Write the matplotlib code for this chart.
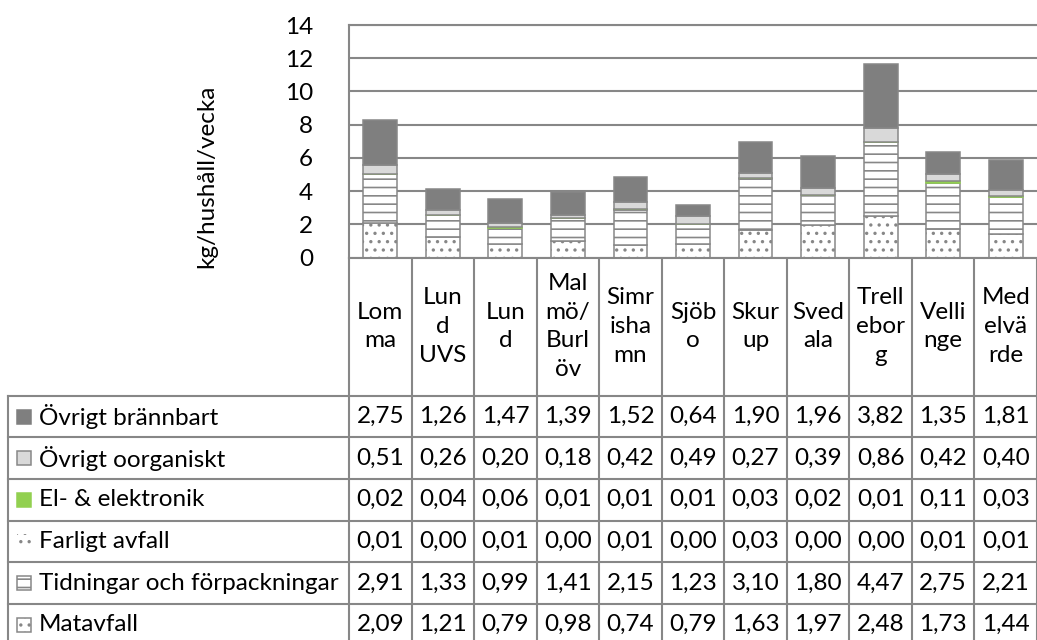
import matplotlib
matplotlib.use("Agg")
import matplotlib.pyplot as plt
from matplotlib.patches import Rectangle
import numpy as np

plt.rcParams['font.family'] = ['Lato', 'DejaVu Sans']
plt.rcParams['hatch.linewidth'] = 1.2

# kommuner, header text wrapped the way the table cell shows it
kommuner = ["Lom\nma", "Lun\nd\nUVS", "Lun\nd", "Mal\nmö/\nBurl\növ", "Simr\nisha\nmn",
            "Sjöb\no", "Skur\nup", "Sved\nala", "Trell\nebor\ng", "Velli\nnge", "Med\nelvä\nrde"]

# kg/hushåll/vecka per fraktion
matavfall = [2.09, 1.21, 0.79, 0.98, 0.74, 0.79, 1.63, 1.97, 2.48, 1.73, 1.44]
tidningar = [2.91, 1.33, 0.99, 1.41, 2.15, 1.23, 3.10, 1.80, 4.47, 2.75, 2.21]
farligt = [0.01, 0.00, 0.01, 0.00, 0.01, 0.00, 0.03, 0.00, 0.00, 0.01, 0.01]
el = [0.02, 0.04, 0.06, 0.01, 0.01, 0.01, 0.03, 0.02, 0.01, 0.11, 0.03]
oorganiskt = [0.51, 0.26, 0.20, 0.18, 0.42, 0.49, 0.27, 0.39, 0.86, 0.42, 0.40]
brannbart = [2.75, 1.26, 1.47, 1.39, 1.52, 0.64, 1.90, 1.96, 3.82, 1.35, 1.81]

grey = "#878787"
# stacked bottom -> top: (namn, värden, fyllning, mönster)
serier = [
    ("Matavfall", matavfall, "white", ".."),
    ("Tidningar och förpackningar", tidningar, "white", "--"),
    ("Farligt avfall", farligt, "white", ".."),
    ("El- & elektronik", el, "#92d050", None),
    ("Övrigt oorganiskt", oorganiskt, "#d9d9d9", None),
    ("Övrigt brännbart", brannbart, "#7f7f7f", None),
]

W, H = 1037, 640
fs = 17.5
x0, x1 = 349, 1037
y_top, y_bot = 25, 257.5
row_top, row_h = 395.7, 41.65
n = len(kommuner)

fig = plt.figure(figsize=(W / 100, H / 100), dpi=100)

# table layer in pixel coordinates
tab = fig.add_axes([0, 0, 1, 1])
tab.set_xlim(0, W)
tab.set_ylim(H, 0)
tab.axis("off")

ax = fig.add_axes([x0 / W, 1 - y_bot / H, (x1 - x0) / W, (y_bot - y_top) / H])
x = np.arange(n)
bottom = np.zeros(n)
for namn, vals, face, hatch in serier:
    vals = np.array(vals)
    ec = face if face == "#92d050" else grey
    ax.bar(x, vals, width=0.54, bottom=bottom, color=face, edgecolor=ec,
           linewidth=1.1, hatch=hatch)
    bottom += vals

ax.set_xlim(-0.5, n - 0.5)
ax.set_ylim(0, 14)
ax.set_yticks(range(0, 15, 2))
ax.set_xticks([])
ax.grid(axis="y", color=grey, linewidth=1.5)
ax.set_axisbelow(True)
ax.spines["right"].set_visible(False)
for s in ("left", "bottom", "top"):
    ax.spines[s].set_color(grey)
    ax.spines[s].set_linewidth(1.5)
ax.tick_params(axis="y", length=0, pad=26, labelsize=fs)
fig.text(207 / W, 1 - 176 / H, "kg/hushåll/vecka", rotation=90,
         ha="center", va="center", fontsize=fs)

# data table under the chart
bx = [x0 + i * (x1 - x0) / n for i in range(n + 1)]
cx = [(bx[i] + bx[i + 1]) / 2 for i in range(n)]
for i, lab in enumerate(kommuner):
    tab.text(cx[i], (y_bot + row_top) / 2, lab, ha="center", va="center",
             fontsize=fs, linespacing=1.45)

lw = 1.5
for k in range(7):
    y = row_top + k * row_h
    tab.plot([8, W], [y, y], color=grey, lw=lw)
tab.plot([8, 8], [row_top, H + 5], color=grey, lw=lw)
for b in bx:
    tab.plot([b, b], [y_bot, H + 5], color=grey, lw=lw)

for r, (namn, vals, face, hatch) in enumerate(serier[::-1]):
    yc = row_top + (r + 0.5) * row_h
    if namn == "Farligt avfall":
        key = Rectangle((17, yc - 7), 14, 14, facecolor="white", edgecolor=grey,
                        linewidth=0, hatch=hatch)
    elif face in ("#92d050", "#7f7f7f"):
        key = Rectangle((17, yc - 7), 14, 14, facecolor=face, edgecolor=face,
                        linewidth=1.1)
    else:
        key = Rectangle((17, yc - 7), 14, 14, facecolor=face, edgecolor=grey,
                        linewidth=1.1, hatch=hatch)
    tab.add_patch(key)
    tab.text(39, yc, namn, ha="left", va="center", fontsize=fs)
    for i, v in enumerate(vals):
        tab.text(cx[i], yc, f"{v:.2f}".replace(".", ","), ha="center",
                 va="center", fontsize=fs)

fig.savefig("out.png", dpi=100)
